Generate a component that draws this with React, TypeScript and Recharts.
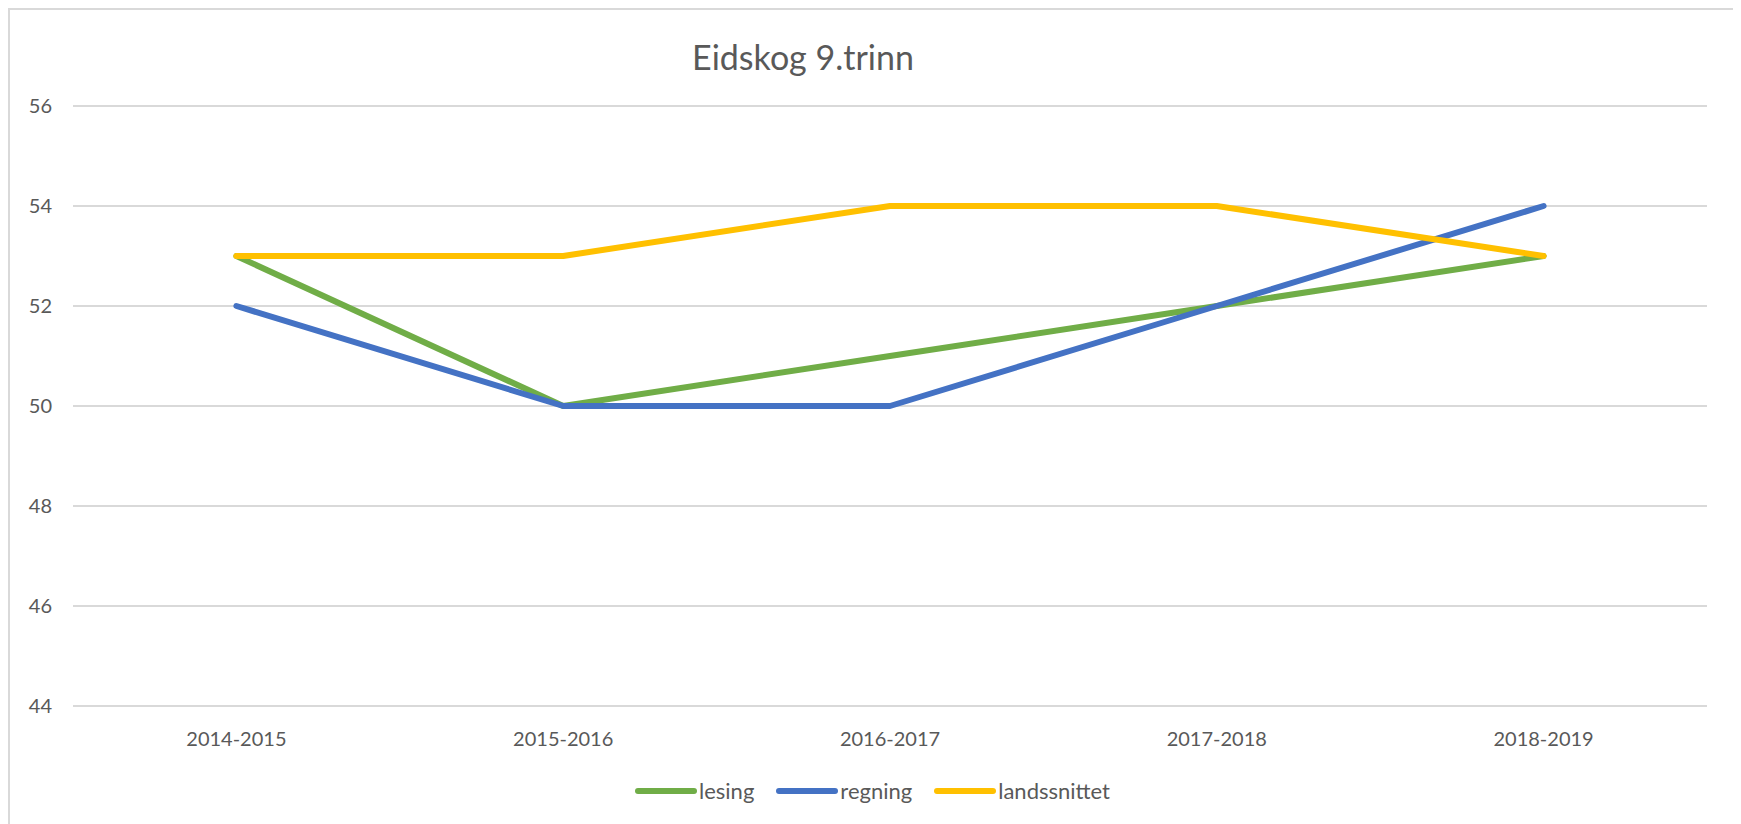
import React from 'react';
import { LineChart, Line, XAxis, YAxis, CartesianGrid, Legend } from 'recharts';

// school years on the x axis
const years = ['2014-2015', '2015-2016', '2016-2017', '2017-2018', '2018-2019'];
// scale points per series
const lesing = [53, 50, 51, 52, 53];
const regning = [52, 50, 50, 52, 54];
const landssnittet = [53, 53, 54, 54, 53];
const yTicks = [44, 46, 48, 50, 52, 54, 56];

const series = [
  { key: 'lesing', color: '#70AD47' },
  { key: 'regning', color: '#4472C4' },
  { key: 'landssnittet', color: '#FFC000' },
];

const data = years.map((y, i) => ({
  year: y,
  lesing: lesing[i],
  regning: regning[i],
  landssnittet: landssnittet[i],
}));

const font = 'Lato, "Open Sans", sans-serif';
const textColor = '#595959';

const LegendContent = () => (
  <div style={{ display: 'flex', alignItems: 'center', height: 28, fontFamily: font, fontSize: 22, color: textColor }}>
    {series.map((s, i) => (
      <div key={s.key} style={{ display: 'flex', alignItems: 'center', marginLeft: i === 0 ? 0 : 22 }}>
        <svg width={62} height={10} style={{ display: 'block' }}>
          <line x1={3} y1={5} x2={59} y2={5} stroke={s.color} strokeWidth={6} strokeLinecap="round" />
        </svg>
        <span style={{ marginLeft: 2, lineHeight: '28px' }}>{s.key}</span>
      </div>
    ))}
  </div>
);

const App: React.FC = () => {
  return (
    <div
      style={{
        position: 'relative',
        width: 1726,
        height: 814,
        border: '2px solid #D9D9D9',
        borderBottom: 'none',
        background: '#fff',
        overflow: 'hidden',
      }}
    >
      <div
        style={{
          position: 'absolute',
          left: 593,
          width: 400,
          top: 30,
          textAlign: 'center',
          fontFamily: font,
          fontSize: 34,
          lineHeight: '34px',
          color: textColor,
        }}
      >
        Eidskog 9.trinn
      </div>
      <LineChart width={1726} height={814} data={data} margin={{ top: 96, right: 29, left: 0, bottom: 19 }}>
        <CartesianGrid stroke="#D9D9D9" strokeWidth={2} vertical={false} />
        <XAxis
          dataKey="year"
          scale="band"
          axisLine={false}
          tickLine={false}
          height={71}
          tickMargin={20}
          tick={{ fill: textColor, fontSize: 20, fontFamily: font }}
        />
        <YAxis
          domain={[44, 56]}
          ticks={yTicks}
          width={63}
          axisLine={false}
          tickLine={false}
          tickMargin={15}
          tick={{ fill: textColor, fontSize: 20, fontFamily: font }}
        />
        <Legend
          verticalAlign="bottom"
          width={520}
          height={28}
          wrapperStyle={{ left: 625 }}
          content={() => <LegendContent />}
        />
        {series.map((s) => (
          <Line
            key={s.key}
            type="linear"
            dataKey={s.key}
            stroke={s.color}
            strokeWidth={6}
            strokeLinecap="round"
            strokeLinejoin="round"
            dot={false}
            activeDot={false}
            isAnimationActive={false}
          />
        ))}
      </LineChart>
    </div>
  );
};

export default App;
